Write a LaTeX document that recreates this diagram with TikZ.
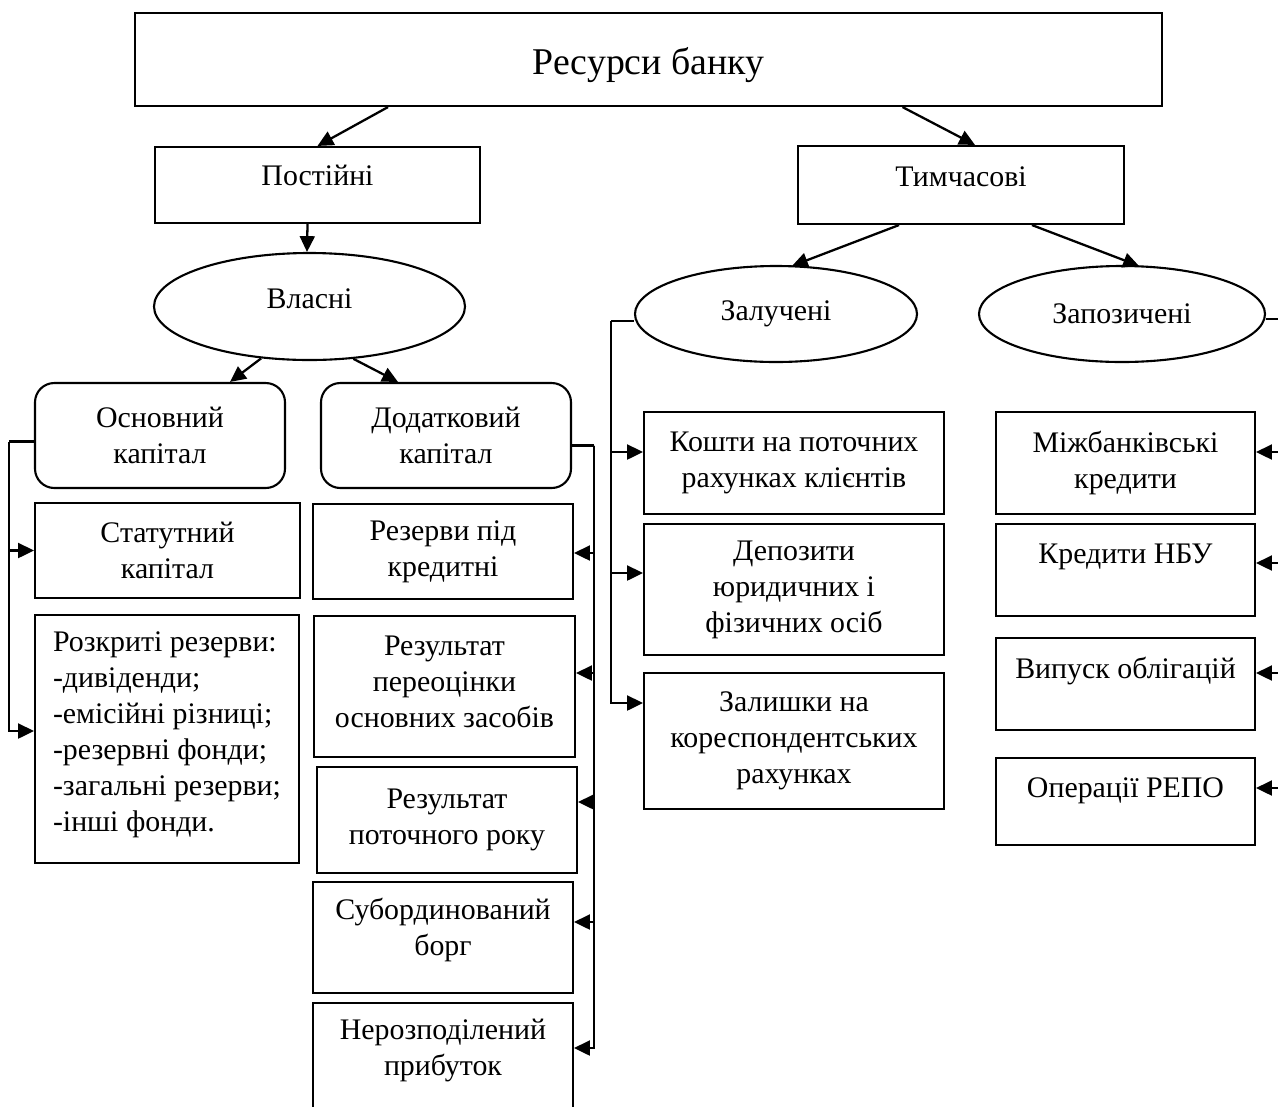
\documentclass[tikz,border=0pt]{standalone}
\usepackage{fontspec}
\setmainfont{Liberation Serif}
\usetikzlibrary{arrows.meta,calc,shapes.geometric}

\tikzset{
  sz/.style 2 args={minimum width=#1*0.02cm, minimum height=#2*0.02cm},
  box/.style={draw, line width=1.2pt, align=center, inner sep=1pt,
    font=\fontsize{17}{20.5}\selectfont},
  rbox/.style={box, rounded corners=11pt},
  oval/.style={box, ellipse},
  lift/.style={text depth=#1},
  arr/.style={line width=1.3pt, -{Triangle[length=9pt,width=8.5pt]}},
  ln/.style={line width=1.3pt}
}

\begin{document}
\begin{tikzpicture}[x=0.02cm,y=-0.02cm]
    \useasboundingbox (0,0) rectangle (1278,1106);
    \clip (0,0) rectangle (1278,1106);

    % верхній рівень
    \node[box, sz={1027}{93}, text height=22pt, font=\fontsize{21.5}{25}\selectfont] (res) at (648.5,59.5) {Ресурси банку};
    \node[box, sz={325}{76}, lift=11pt] (post) at (317.5,185) {Постійні};
    \node[box, sz={326}{78}, lift=9pt] (tym) at (961,185) {Тимчасові};

    % овали
    \node[oval, sz={311}{107}, lift=9pt] (vl) at (309.5,306.5) {Власні};
    \node[oval, sz={282}{96}] (zal) at (776,314) {Залучені};
    \node[oval, sz={286}{96}] (zap) at (1122,314) {Запозичені};

    % власний капітал
    \node[rbox, sz={250}{105}] (osn) at (160,435.5) {Основний\\капітал};
    \node[rbox, sz={250}{105}] (dod) at (446,435.5) {Додатковий\\капітал};
    \node[box, sz={265}{95}] (stat) at (167.5,550.5) {Статутний\\капітал};
    \node[box, sz={264}{248}, align=left, lift=8.5pt] (rozk) at (167,739)
        {Розкриті резерви:\\-дивіденди;\\-емісійні різниці;\\-резервні фонди;\\-загальні резерви;\\-інші фонди.};
    \node[box, sz={260}{95}] (rez) at (443,551.5) {Резерви під\\кредитні};
    \node[box, sz={261}{141}, lift=5.5pt] (pereoc) at (444.5,686.5) {Результат\\переоцінки\\основних засобів};
    \node[box, sz={260}{106}] (potoch) at (447,820) {Результат\\поточного року};
    \node[box, sz={260}{111}, lift=11.7pt] (sub) at (443,937.5) {Субординований\\борг};
    \node[box, sz={260}{110}, lift=12pt] (nerozp) at (443,1058) {Нерозподілений\\прибуток};

    % залучені
    \node[box, sz={300}{102}] (kosht) at (794,463) {Кошти на поточних\\рахунках клієнтів};
    \node[box, sz={300}{131}] (dep) at (794,589.5) {Депозити\\юридичних і\\фізичних осіб};
    \node[box, sz={300}{136}] (zlsh) at (794,741) {Залишки на\\кореспондентських\\рахунках};

    % запозичені
    \node[box, sz={259}{102}] (mizh) at (1125.5,463) {Міжбанківські\\кредити};
    \node[box, sz={259}{92}, lift=18.5pt] (nbu) at (1125.5,570) {Кредити НБУ};
    \node[box, sz={259}{92}, lift=18.5pt] (vyp) at (1125.5,684) {Випуск облігацій};
    \node[box, sz={259}{87}, lift=15.5pt] (repo) at (1125.5,801.5) {Операції РЕПО};

    % стрілки між рівнями
    \draw[arr] ($(res.south)+(-260.5,0)$) -- (post.north);
    \draw[arr] ($(res.south)+(254,0)$) -- ($(tym.north)+(14,0)$);
    \draw[arr] ($(post.south)+(-10,0)$) -- ($(vl.north)+(-2.5,0)$);
    \draw[arr] ($(tym.south)+(-62,0)$) -- ($(zal.north)+(16,1)$);
    \draw[arr] ($(tym.south)+(71,0)$) -- ($(zap.north)+(17,1)$);
    \draw[arr] (vl.227) -- ($(osn.north)+(70,0)$);
    \draw[arr] (vl.310) -- ($(dod.north)+(-48,0)$);

    % основний капітал
    \draw[ln] ($(osn.west)+(0,6)$) -- ++(-25,0) coordinate (osnb);
    \draw[arr] (osnb) |- (stat.west);
    \draw[arr] (osnb) |- ($(rozk.west)+(0,-8)$);

    % додатковий капітал
    \draw[ln] ($(dod.east)+(0,10)$) -- ++(22,0) coordinate (dodb);
    \draw[arr] (dodb) |- ($(rez.east)+(0,1.5)$);
    \draw[arr] (dodb) |- ($(pereoc.east)+(0,-13.5)$);
    \draw[arr] (dodb) |- ($(potoch.east)+(0,-18)$);
    \draw[arr] (dodb) |- ($(sub.east)+(0,-15.5)$);
    \draw[arr] (dodb) |- ($(nerozp.east)+(0,-10)$);

    % залучені ресурси
    \draw[ln] ($(zal.west)+(0,7)$) -- ++(-23,0) coordinate (zalb);
    \draw[arr] (zalb) |- ($(kosht.west)+(0,-11)$);
    \draw[arr] (zalb) |- ($(dep.west)+(0,-16.5)$);
    \draw[arr] (zalb) |- ($(zlsh.west)+(0,-38)$);

    % запозичені ресурси
    \draw[ln] ($(zap.east)+(0,5)$) -- ++(30,0) coordinate (zapb);
    \draw[arr] (zapb) |- ($(mizh.east)+(0,-11)$);
    \draw[arr] (zapb) |- ($(nbu.east)+(0,-7)$);
    \draw[arr] (zapb) |- ($(vyp.east)+(0,-11)$);
    \draw[arr] (zapb) |- ($(repo.east)+(0,-13.5)$);
\end{tikzpicture}
\end{document}
